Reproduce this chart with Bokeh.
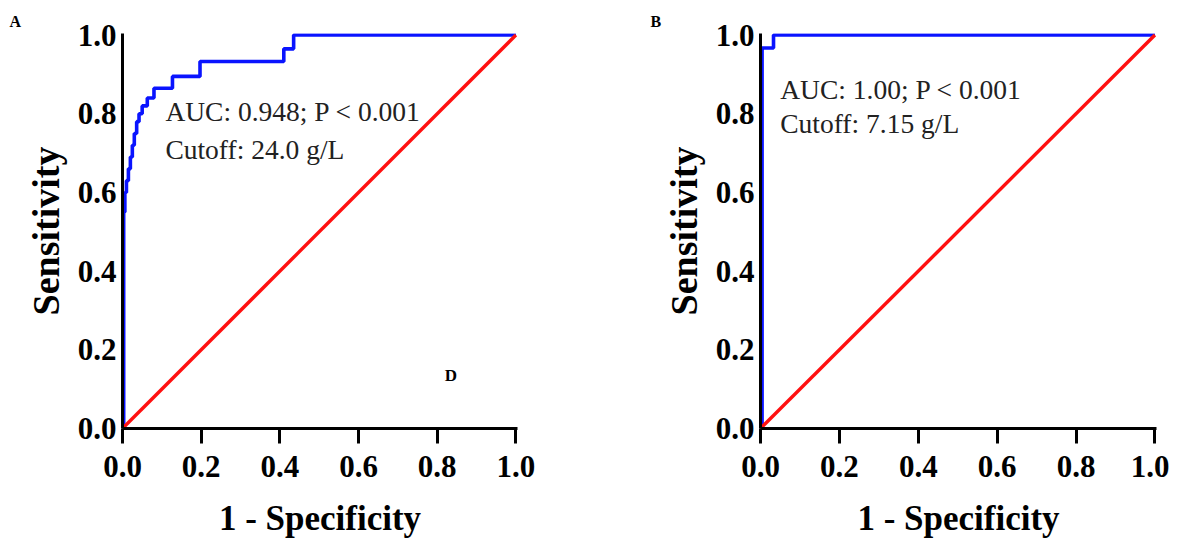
from bokeh.plotting import figure
from bokeh.layouts import row
from bokeh.models import Label, FixedTicker, Range1d
from bokeh.embed import file_html
from bokeh.resources import INLINE

# Panel A ROC curve (1 - specificity, sensitivity)
fpr_a = [0.0, 0.003, 0.003, 0.006, 0.006, 0.01, 0.01, 0.015, 0.015, 0.02, 0.02, 0.025, 0.025,
         0.03, 0.03, 0.036, 0.036, 0.042, 0.042, 0.05, 0.05, 0.063, 0.063, 0.08, 0.08,
         0.127, 0.127, 0.197, 0.197, 0.41, 0.41, 0.435, 0.435, 1.0]
tpr_a = [0.0, 0.0, 0.55, 0.55, 0.6, 0.6, 0.63, 0.63, 0.66, 0.66, 0.69, 0.69, 0.72,
         0.72, 0.75, 0.75, 0.78, 0.78, 0.80, 0.80, 0.82, 0.82, 0.84, 0.84, 0.865,
         0.865, 0.895, 0.895, 0.933, 0.933, 0.965, 0.965, 1.0, 1.0]
# Panel B ROC curve
fpr_b = [0.004, 0.004, 0.033, 0.033, 1.0]
tpr_b = [0.0, 0.967, 0.967, 1.0, 1.0]
# reference diagonal
diag = [0.0, 1.0]
ticks = [0.0, 0.2, 0.4, 0.6, 0.8, 1.0]
tick_labels = {0.0: "0.0", 0.2: "0.2", 0.4: "0.4", 0.6: "0.6", 0.8: "0.8", 1.0: "1.0"}

auc_a = "AUC: 0.948; P < 0.001"
cut_a = "Cutoff: 24.0 g/L"
auc_b = "AUC: 1.00; P < 0.001"
cut_b = "Cutoff: 7.15 g/L"

FONT = "Liberation Serif"
H = 540


def make_fig(width, bl, br, fx, fy, auc_text, cut_text, tx, ty1, ty2, panel, offset):
    p = figure(width=width, height=H, output_backend="svg", toolbar_location=None,
               x_range=Range1d(0, 1.004), y_range=Range1d(0, 1.004),
               min_border_left=bl, min_border_right=br, min_border_top=33, min_border_bottom=112)
    p.title.text = panel
    p.title.align = "left"
    p.title.offset = offset
    p.title.standoff = 8
    p.title.text_font = FONT
    p.title.text_font_style = "bold"
    p.title.text_font_size = "16px"
    p.title.text_color = "black"
    p.outline_line_color = None
    p.xgrid.visible = False
    p.ygrid.visible = False
    p.background_fill_color = "white"
    p.border_fill_color = "white"
    p.line(fx, fy, line_color="#0A14FF", line_width=3.6)
    p.line(diag, diag, line_color="#FF1010", line_width=3.4)
    for ax in (p.xaxis[0], p.yaxis[0]):
        ax.ticker = FixedTicker(ticks=ticks)
        ax.major_label_overrides = tick_labels
        ax.axis_line_width = 3
        ax.axis_line_color = "black"
        ax.major_tick_line_width = 3
        ax.major_tick_line_color = "black"
        ax.minor_tick_line_color = None
        ax.major_label_text_font = FONT
        ax.major_label_text_font_style = "bold"
        ax.major_label_text_font_size = "31px"
        ax.major_label_text_color = "black"
        ax.axis_label_text_font = FONT
        ax.axis_label_text_font_style = "bold"
        ax.axis_label_text_color = "black"
    p.xaxis.major_tick_out = 15
    p.xaxis.major_tick_in = 0
    p.xaxis.major_label_standoff = 12
    p.xaxis.axis_label = "1 - Specificity"
    p.xaxis.axis_label_text_font_size = "35px"
    p.xaxis.axis_label_standoff = 19
    p.yaxis.major_tick_out = 0
    p.yaxis.major_tick_in = 0
    p.yaxis.major_label_standoff = 6
    p.yaxis.axis_label = "Sensitivity"
    p.yaxis.axis_label_text_font_size = "38px"
    p.yaxis.axis_label_standoff = 8
    p.add_layout(Label(x=tx, y=ty1, text=auc_text, text_font=FONT, text_font_size="27.5px",
                       text_color="#222222", text_baseline="middle"))
    p.add_layout(Label(x=tx, y=ty2, text=cut_text, text_font=FONT, text_font_size="27.5px",
                       text_color="#222222", text_baseline="middle"))
    return p


pa = make_fig(608, 122, 91, fpr_a, tpr_a, auc_a, cut_a, 0.109, 0.805, 0.709, "A", -113)
pb = make_fig(561, 152, 13, fpr_b, tpr_b, auc_b, cut_b, 0.05, 0.861, 0.775, "B", -110)

pa.add_layout(Label(x=0.835, y=0.134, text="D", text_font=FONT, text_font_style="bold",
                    text_font_size="17px", text_color="black", text_align="center",
                    text_baseline="middle"))

layout = row(pa, pb)
open("out.html", "w").write(file_html(layout, INLINE))
